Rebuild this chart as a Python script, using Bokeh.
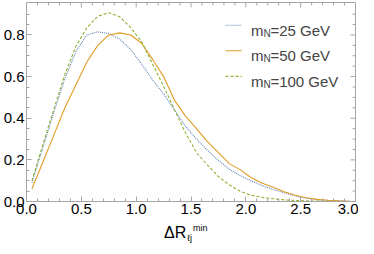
import math
from bokeh.plotting import figure
from bokeh.models import Range1d, FixedTicker, Label, Div
from bokeh.layouts import column
from bokeh.embed import file_html
from bokeh.resources import INLINE

# ---- data ----
dr = [0.05, 0.15, 0.25, 0.35, 0.45, 0.55, 0.65, 0.75, 0.85, 0.95,
      1.05, 1.15, 1.25, 1.35, 1.45, 1.55, 1.65, 1.75, 1.85, 1.95,
      2.05, 2.15, 2.25, 2.35, 2.45, 2.55, 2.65, 2.75, 2.85, 2.95]
m25 = [0.090, 0.260, 0.430, 0.590, 0.720, 0.800, 0.815, 0.807, 0.780, 0.730,
       0.660, 0.584, 0.516, 0.440, 0.360, 0.300, 0.246, 0.197, 0.155, 0.124,
       0.099, 0.076, 0.058, 0.042, 0.027, 0.016, 0.009, 0.005, 0.002, 0.001]
m50 = [0.061, 0.190, 0.320, 0.450, 0.560, 0.670, 0.750, 0.800, 0.810, 0.800,
       0.760, 0.683, 0.600, 0.486, 0.410, 0.350, 0.288, 0.235, 0.182, 0.152,
       0.114, 0.088, 0.068, 0.047, 0.030, 0.018, 0.010, 0.006, 0.003, 0.001]
m100 = [0.100, 0.275, 0.445, 0.610, 0.745, 0.835, 0.890, 0.907, 0.888, 0.835,
        0.767, 0.660, 0.554, 0.440, 0.330, 0.235, 0.175, 0.120, 0.079, 0.049,
        0.030, 0.020, 0.013, 0.008, 0.005, 0.003, 0.002, 0.001, 0.0005, 0.0002]
series_masses = ["25", "50", "100"]
xticks = [0.0, 0.5, 1.0, 1.5, 2.0, 2.5, 3.0]
yticks = [0.0, 0.2, 0.4, 0.6, 0.8]
xminor = [0.1, 0.2, 0.3, 0.4, 0.6, 0.7, 0.8, 0.9, 1.1, 1.2, 1.3, 1.4,
          1.6, 1.7, 1.8, 1.9, 2.1, 2.2, 2.3, 2.4, 2.6, 2.7, 2.8, 2.9]
yminor = [0.05, 0.1, 0.15, 0.25, 0.3, 0.35, 0.45, 0.5, 0.55, 0.65, 0.7,
          0.75, 0.85, 0.9]
XMAX, YMAX = 3.0, 0.956

# ---- style ----
FONT = "Liberation Sans"
GRAY = "#a6a6a6"
colors = ["#5e81b5", "#e19c24", "#8fb032"]
dashes = ["1 1", "solid", "3 2"]

p = figure(width=358, height=216, output_backend="svg", toolbar_location=None,
           x_range=Range1d(0, XMAX), y_range=Range1d(0, YMAX),
           min_border_left=2, min_border_right=3, min_border_top=2,
           min_border_bottom=2)
p.xgrid.visible = False
p.ygrid.visible = False
p.outline_line_color = GRAY
p.background_fill_color = "white"

for ax, maj, mnr in ((p.xaxis[0], xticks, xminor), (p.yaxis[0], yticks, yminor)):
    ax.ticker = FixedTicker(ticks=maj, minor_ticks=mnr)
    ax.major_label_overrides = {t: f"{t:.1f}" for t in maj}
    ax.major_label_text_font = FONT
    ax.major_label_text_font_size = "15px"
    ax.major_label_text_color = "black"
    ax.major_label_standoff = 2
    ax.axis_line_color = GRAY
    ax.major_tick_line_color = GRAY
    ax.minor_tick_line_color = GRAY
    ax.major_tick_in = 5
    ax.major_tick_out = 0
    ax.minor_tick_in = 3
    ax.minor_tick_out = 0

# mirrored ticks on the top and right frame edges (inside)
p.ray(x=xticks, y=YMAX, length=5, length_units="screen", angle=-math.pi / 2,
      line_color=GRAY, line_width=1)
p.ray(x=xminor, y=YMAX, length=3, length_units="screen", angle=-math.pi / 2,
      line_color=GRAY, line_width=1)
p.ray(x=XMAX, y=yticks, length=5, length_units="screen", angle=math.pi,
      line_color=GRAY, line_width=1)
p.ray(x=XMAX, y=yminor, length=3, length_units="screen", angle=math.pi,
      line_color=GRAY, line_width=1)

for ys, c, d in zip((m25, m50, m100), colors, dashes):
    p.line(dr, ys, line_color=c, line_width=1.1, line_dash=d)

# ---- legend (manual, to allow subscript N) ----
LEG_X0, LEG_X1, LEG_TX = 1.815, 1.963, 2.046
LEG_Y = [0.847, 0.724, 0.601]
for ly, c, d, mass in zip(LEG_Y, colors, dashes, series_masses):
    p.line([LEG_X0, LEG_X1], [ly, ly], line_color=c, line_width=1.1, line_dash=d)
    p.add_layout(Label(x=LEG_TX, y=ly, y_offset=-5, text="m", text_font=FONT,
                       text_font_size="15px", text_baseline="alphabetic"))
    p.add_layout(Label(x=LEG_TX, y=ly, x_offset=12.5, y_offset=-8, text="N",
                       text_font=FONT, text_font_size="10px",
                       text_baseline="alphabetic"))
    p.add_layout(Label(x=LEG_TX, y=ly, x_offset=19.5, y_offset=-5,
                       text=f"={mass} GeV", text_font=FONT,
                       text_font_size="15px", text_baseline="alphabetic"))

# ---- x-axis title: ΔR_{ℓj}^{min} (HTML below the figure) ----
title_html = (
    "<div style=\"position:relative;width:358px;height:22px;"
    "font-family:'Liberation Sans';color:black;\">"
    "<span style=\"position:absolute;left:164px;top:9px;font-size:16px;"
    "line-height:16px;white-space:nowrap;\">ΔR</span>"
    "<span style=\"position:absolute;left:187px;top:18px;font-size:9px;"
    "line-height:9px;white-space:nowrap;\">ℓj</span>"
    "<span style=\"position:absolute;left:193px;top:8px;font-size:9px;"
    "line-height:9px;white-space:nowrap;\">min</span>"
    "</div>"
)
title = Div(text=title_html, width=358, height=22, margin=(0, 0, 0, 0))

layout = column(p, title, spacing=0)
open("out.html", "w").write(file_html(layout, INLINE))
